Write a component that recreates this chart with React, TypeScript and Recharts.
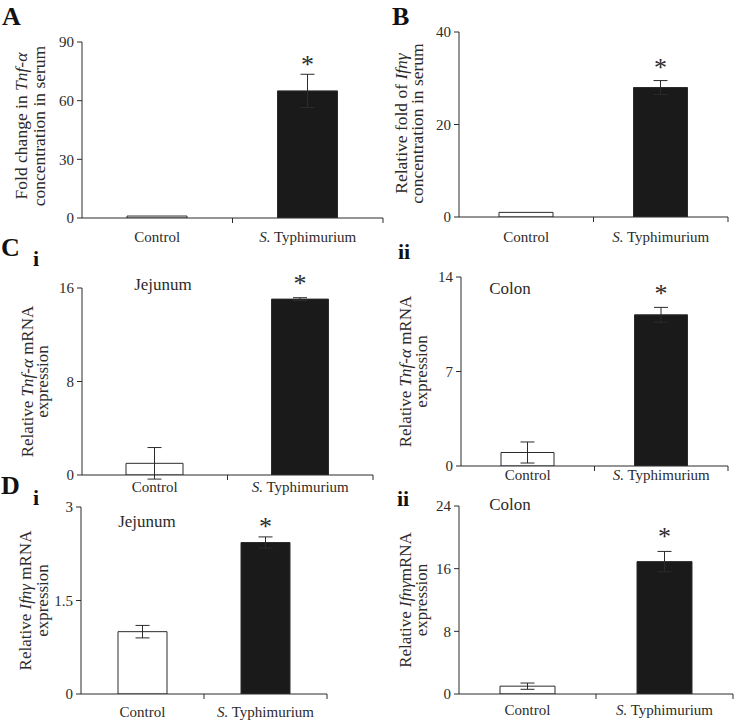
import React from "react";
import { BarChart, Bar, XAxis, YAxis, Cell, ErrorBar, LabelList } from "recharts";

const FONT = '"Liberation Serif", "Times New Roman", serif';
const INK = "#2b2b2b";

// data
const groups = ["Control", "S. Typhimurium"];
const barFills = ["#ffffff", "#1a1a1a"];
const sig = ["", "*"];

const serumTnf = [1, 65];
const serumTnfErr = [0, 8.5];
const serumIfn = [1, 28];
const serumIfnErr = [0, 1.5];
const jejunumTnf = [1, 15.05];
const jejunumTnfErr = [1.35, 0.12];
const colonTnf = [1, 11.2];
const colonTnfErr = [0.78, 0.55];
const jejunumIfn = [1, 2.43];
const jejunumIfnErr = [0.1, 0.09];
const colonIfn = [1, 16.9];
const colonIfnErr = [0.4, 1.3];

const ticksA = [0, 30, 60, 90];
const ticksB = [0, 20, 40];
const ticksCi = [0, 8, 16];
const ticksCii = [0, 7, 14];
const ticksDi = [0, 1.5, 3];
const ticksDii = [0, 8, 16, 24];

type Seg = { t: string; i?: boolean };

const build = (values: number[], errs: number[]) =>
  groups.map((g, i) => ({ group: g, value: values[i], err: errs[i], sig: sig[i] }));

const panels = [
  {
    id: "A", values: serumTnf, errs: serumTnfErr, ticks: ticksA, yMax: 90,
    box: { x: 0, y: 0, w: 385, h: 250 }, axisX: 82, plotRight: 383, plotTop: 42, plotBottom: 218,
    barSize: 60, labelDy: 19, starGap: 13, yLabelX: [-61, -43], yLabelShift: -4, yLabelSize: 17.5,
    yLabel: [[{ t: "Fold change in " }, { t: "Tnf-α", i: true }], [{ t: "concentration in serum" }]] as Seg[][],
  },
  {
    id: "B", values: serumIfn, errs: serumIfnErr, ticks: ticksB, yMax: 40,
    box: { x: 370, y: 0, w: 364, h: 250 }, axisX: 459, plotRight: 728, plotTop: 32, plotBottom: 217,
    barSize: 54, labelDy: 20, starGap: 17, yLabelX: [-58, -42], yLabelShift: -1, yLabelSize: 17.5,
    yLabel: [[{ t: "Relative fold of " }, { t: "Ifnγ", i: true }], [{ t: "concentration in serum" }]] as Seg[][],
  },
  {
    id: "Ci", values: jejunumTnf, errs: jejunumTnfErr, ticks: ticksCi, yMax: 16,
    box: { x: 0, y: 250, w: 385, h: 255 }, axisX: 82, plotRight: 373, plotTop: 288, plotBottom: 475,
    barSize: 57, labelDy: 12, starGap: 18, yLabelX: [-55, -40], yLabelShift: 0, yLabelSize: 17,
    yLabel: [[{ t: "Relative " }, { t: "Tnf-α", i: true }, { t: " mRNA" }], [{ t: "expression" }]] as Seg[][],
  },
  {
    id: "Cii", values: colonTnf, errs: colonTnfErr, ticks: ticksCii, yMax: 14,
    box: { x: 370, y: 250, w: 364, h: 250 }, axisX: 461, plotRight: 728, plotTop: 277, plotBottom: 466,
    barSize: 53, labelDy: 9, starGap: 17, yLabelX: [-56, -40], yLabelShift: 0, yLabelSize: 17,
    yLabel: [[{ t: "Relative " }, { t: "Tnf-α", i: true }, { t: " mRNA" }], [{ t: "expression" }]] as Seg[][],
  },
  {
    id: "Di", values: jejunumIfn, errs: jejunumIfnErr, ticks: ticksDi, yMax: 3,
    box: { x: 0, y: 490, w: 385, h: 232 }, axisX: 81, plotRight: 327, plotTop: 507, plotBottom: 694,
    barSize: 49, labelDy: 18, starGap: 14, yLabelX: [-56, -39], yLabelShift: 0, yLabelSize: 17,
    yLabel: [[{ t: "Relative " }, { t: "Ifnγ", i: true }, { t: " mRNA" }], [{ t: "expression" }]] as Seg[][],
  },
  {
    id: "Dii", values: colonIfn, errs: colonIfnErr, ticks: ticksDii, yMax: 24,
    box: { x: 370, y: 490, w: 364, h: 232 }, axisX: 459, plotRight: 733, plotTop: 506, plotBottom: 694,
    barSize: 55, labelDy: 16, starGap: 18, yLabelX: [-54, -38], yLabelShift: 0, yLabelSize: 17,
    yLabel: [[{ t: "Relative " }, { t: "Ifnγ", i: true }, { t: "mRNA" }], [{ t: "expression" }]] as Seg[][],
  },
];

type PanelCfg = (typeof panels)[number];

function XTick(props: any) {
  const { x, y, payload, bw, dy } = props;
  const label: string = payload.value;
  const italic = label.startsWith("S. ");
  return (
    <g>
      <line x1={x + bw / 2} y1={y} x2={x + bw / 2} y2={y + 5} stroke={INK} />
      <text x={x} y={y + dy + 5} textAnchor="middle" fontSize={15} fill={INK} fontFamily={FONT}>
        {italic ? (
          <>
            <tspan fontStyle="italic">S.</tspan>
            <tspan>{label.slice(2)}</tspan>
          </>
        ) : (
          label
        )}
      </text>
    </g>
  );
}

function Panel({ cfg }: { cfg: PanelCfg }) {
  const data = build(cfg.values, cfg.errs);
  const plotH = cfg.plotBottom - cfg.plotTop;
  const mt = cfg.plotTop - cfg.box.y;
  const yw = cfg.axisX - cfg.box.x;
  const mr = cfg.box.x + cfg.box.w - cfg.plotRight;
  const xh = cfg.box.y + cfg.box.h - cfg.plotBottom;
  const bw = (cfg.plotRight - cfg.axisX) / groups.length;
  const perUnit = plotH / cfg.yMax;

  const yLabel = () => {
    const cy = mt + plotH / 2 + cfg.yLabelShift;
    return (
      <g>
        {cfg.yLabel.map((line, li) => {
          const x = yw + cfg.yLabelX[li];
          return (
            <text
              key={li}
              x={x}
              y={cy}
              transform={`rotate(-90 ${x} ${cy})`}
              textAnchor="middle"
              dominantBaseline="central"
              fontSize={cfg.yLabelSize}
              fill={INK}
              fontFamily={FONT}
            >
              {line.map((s, si) => (
                <tspan key={si} fontStyle={s.i ? "italic" : "normal"}>
                  {s.t}
                </tspan>
              ))}
            </text>
          );
        })}
      </g>
    );
  };

  const star = (p: any) => {
    if (!p.value) return null;
    const errPx = data[p.index].err * perUnit;
    const cy = p.y - errPx - cfg.starGap;
    return (
      <text x={p.x + p.width / 2} y={cy + 12} textAnchor="middle" fontSize={26} fill={INK} fontFamily={FONT}>
        {p.value}
      </text>
    );
  };

  return (
    <div style={{ position: "absolute", left: cfg.box.x, top: cfg.box.y }}>
      <BarChart
        width={cfg.box.w}
        height={cfg.box.h}
        data={data}
        margin={{ top: mt, right: mr, bottom: 0, left: 0 }}
      >
        <XAxis
          dataKey="group"
          height={xh}
          interval={0}
          tickLine={false}
          tickSize={0}
          tickMargin={0}
          axisLine={{ stroke: INK }}
          tick={(p: any) => <XTick {...p} bw={bw} dy={cfg.labelDy} />}
        />
        <YAxis
          width={yw}
          domain={[0, cfg.yMax]}
          ticks={cfg.ticks}
          allowDataOverflow
          interval={0}
          tickSize={5}
          tickMargin={3}
          axisLine={{ stroke: INK }}
          tickLine={{ stroke: INK }}
          tick={{ fontSize: 15, fill: INK, fontFamily: FONT }}
          label={yLabel}
        />
        <Bar dataKey="value" barSize={cfg.barSize} stroke={INK} strokeWidth={1} isAnimationActive={false}>
          {data.map((d, i) => (
            <Cell key={d.group} fill={barFills[i]} />
          ))}
          <ErrorBar dataKey="err" width={7} stroke={INK} strokeWidth={1} isAnimationActive={false} />
          <LabelList dataKey="sig" content={star} />
        </Bar>
      </BarChart>
    </div>
  );
}

const letters = [
  { t: "A", x: 2, y: 25, s: 26 },
  { t: "B", x: 392, y: 25, s: 26 },
  { t: "C", x: 1, y: 256, s: 26 },
  { t: "i", x: 33, y: 266, s: 22 },
  { t: "ii", x: 398, y: 259, s: 22 },
  { t: "D", x: 1, y: 494, s: 26 },
  { t: "i", x: 33, y: 505, s: 22 },
  { t: "ii", x: 397, y: 506, s: 22 },
];

const tissues = [
  { t: "Jejunum", x: 163, y: 290 },
  { t: "Colon", x: 510, y: 294 },
  { t: "Jejunum", x: 147, y: 527 },
  { t: "Colon", x: 510, y: 510 },
];

export default function App() {
  return (
    <div style={{ position: "absolute", left: 0, top: 0, width: 734, height: 722, background: "#fff", fontFamily: FONT }}>
      {panels.map((cfg) => (
        <Panel key={cfg.id} cfg={cfg} />
      ))}
      <svg width={734} height={722} style={{ position: "absolute", left: 0, top: 0, pointerEvents: "none" }}>
        {letters.map((l, i) => (
          <text key={i} x={l.x} y={l.y} fontSize={l.s} fontWeight="bold" fill="#111" fontFamily={FONT}>
            {l.t}
          </text>
        ))}
        {tissues.map((l, i) => (
          <text key={i} x={l.x} y={l.y} fontSize={17} textAnchor="middle" fill={INK} fontFamily={FONT}>
            {l.t}
          </text>
        ))}
      </svg>
    </div>
  );
}
